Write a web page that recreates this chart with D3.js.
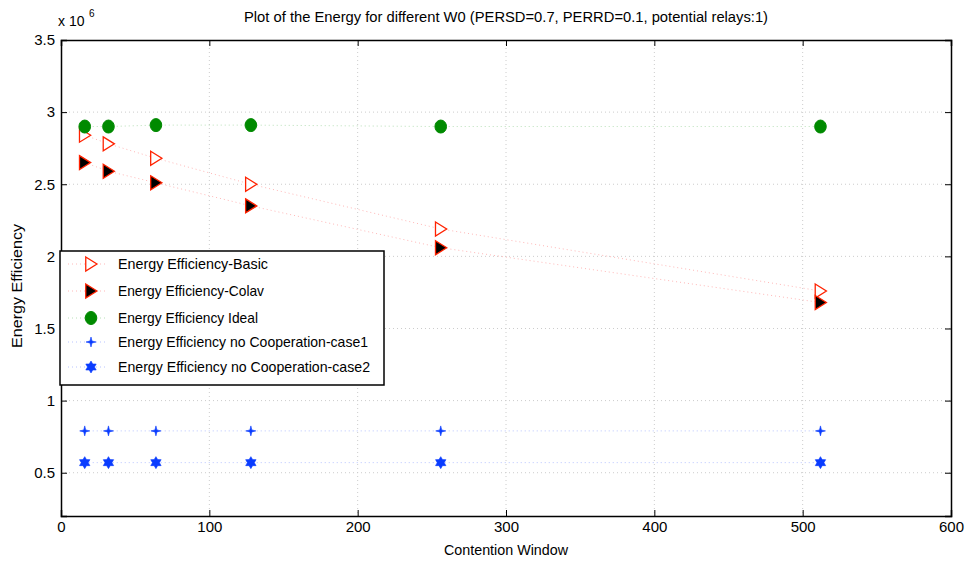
<!DOCTYPE html>
<html>
<head>
<meta charset="utf-8">
<script src="https://cdn.jsdelivr.net/npm/d3@7"></script>
<style>
  body { margin: 0; background: #fff; }
  text { font-family: "Liberation Sans", Arial, sans-serif; fill: #000; }
</style>
</head>
<body>
<div id="chart"></div>
<script>
// contention window values and energy efficiency (x 10^6)
var windows = [16, 32, 64, 128, 256, 512];
var basic = [2.84, 2.78, 2.68, 2.50, 2.19, 1.76];
var colav = [2.65, 2.59, 2.51, 2.35, 2.06, 1.68];
var ideal = [2.90, 2.90, 2.91, 2.91, 2.90, 2.90];
var case1 = [0.79, 0.79, 0.79, 0.79, 0.79, 0.79];
var case2 = [0.57, 0.57, 0.57, 0.57, 0.57, 0.57];
var xTicks = [0, 100, 200, 300, 400, 500, 600];
var yTicks = [0.5, 1, 1.5, 2, 2.5, 3, 3.5];
var seriesNames = [
  "Energy Efficiency-Basic",
  "Energy Efficiency-Colav",
  "Energy Efficiency Ideal",
  "Energy Efficiency no Cooperation-case1",
  "Energy Efficiency no Cooperation-case2"
];

var svgWidth = 967, svgHeight = 561;
var margin = { top: 40, right: 16, bottom: 45, left: 61 };
var width = svgWidth - margin.left - margin.right;
var height = svgHeight - margin.top - margin.bottom;

var svg = d3.select("#chart").append("svg")
  .attr("width", svgWidth)
  .attr("height", svgHeight);

var g = svg.append("g")
  .attr("transform", `translate(${margin.left}, ${margin.top})`);

var x = d3.scaleLinear().domain([0, 600]).range([0, width]);
var y = d3.scaleLinear().domain([0.2, 3.5]).range([height, 0]);

// grid
g.selectAll(".vgrid").data(xTicks.slice(1, -1)).enter().append("line")
  .attr("x1", d => x(d)).attr("x2", d => x(d))
  .attr("y1", 0).attr("y2", height)
  .attr("stroke", "#cccccc").attr("stroke-width", 1).attr("stroke-dasharray", "1,3");
g.selectAll(".hgrid").data(yTicks.slice(0, -1)).enter().append("line")
  .attr("x1", 0).attr("x2", width)
  .attr("y1", d => y(d)).attr("y2", d => y(d))
  .attr("stroke", "#cccccc").attr("stroke-width", 1).attr("stroke-dasharray", "1,3");

// marker shapes
function tri(size) {
  var h = size / 2;
  return `M${-h * 0.75},${-h}L${h * 0.85},0L${-h * 0.75},${h}Z`;
}
function plusStar(r) {
  var w = r * 0.28, p = [];
  for (var i = 0; i < 8; i++) {
    var a = i * Math.PI / 4 - Math.PI / 2;
    var rr = i % 2 === 0 ? r : w;
    p.push([rr * Math.cos(a), rr * Math.sin(a)]);
  }
  return "M" + p.map(q => q.join(",")).join("L") + "Z";
}
function hexagram(r) {
  var ri = r * 0.58, p = [];
  for (var i = 0; i < 12; i++) {
    var a = i * Math.PI / 6 - Math.PI / 2;
    var rr = i % 2 === 0 ? r : ri;
    p.push([rr * Math.cos(a), rr * Math.sin(a)]);
  }
  return "M" + p.map(q => q.join(",")).join("L") + "Z";
}

var series = [
  { name: seriesNames[0], values: basic, line: "#ffb8b8", draw: function (s) {
      s.append("path").attr("d", tri(14)).attr("fill", "#fff").attr("stroke", "#ff2200").attr("stroke-width", 1.3); } },
  { name: seriesNames[1], values: colav, line: "#ffb8b8", draw: function (s) {
      s.append("path").attr("d", tri(14)).attr("fill", "#000").attr("stroke", "#ff2200").attr("stroke-width", 1.3); } },
  { name: seriesNames[2], values: ideal, line: "#b8e0b8", draw: function (s) {
      s.append("ellipse").attr("rx", 5.8).attr("ry", 6.5).attr("fill", "#008a00").attr("stroke", "#008a00"); } },
  { name: seriesNames[3], values: case1, line: "#b8c4ff", draw: function (s) {
      s.append("path").attr("d", plusStar(5)).attr("fill", "#0a3cff").attr("stroke", "#0a3cff").attr("stroke-width", 0.6); } },
  { name: seriesNames[4], values: case2, line: "#b8c4ff", draw: function (s) {
      s.append("path").attr("d", hexagram(6)).attr("fill", "#0a3cff").attr("stroke", "#0a3cff").attr("stroke-width", 0.6); } }
];

var line = d3.line().x((d, i) => x(windows[i])).y(d => y(d));

series.forEach(function (s) {
  g.append("path").datum(s.values)
    .attr("d", line)
    .attr("fill", "none")
    .attr("stroke", s.line)
    .attr("stroke-width", 1)
    .attr("stroke-dasharray", "1,3");
});
series.forEach(function (s) {
  s.values.forEach(function (v, i) {
    var m = g.append("g").attr("transform", `translate(${x(windows[i])},${y(v)})`);
    s.draw(m);
  });
});

// axes box with inward ticks
var bottomAxis = d3.axisBottom(x).tickValues(xTicks).tickSize(-6).tickPadding(5);
var leftAxis = d3.axisLeft(y).tickValues(yTicks).tickSize(-6).tickPadding(6)
  .tickFormat(d3.format("~g"));

var gx = g.append("g").attr("transform", `translate(0, ${height})`).call(bottomAxis);
var gy = g.append("g").call(leftAxis);
g.append("g").call(d3.axisTop(x).tickValues(xTicks).tickSize(-6).tickFormat(""));
g.append("g").attr("transform", `translate(${width}, 0)`)
  .call(d3.axisRight(y).tickValues(yTicks).tickSize(-6).tickFormat(""));

g.selectAll(".domain").attr("stroke", "#000").attr("stroke-width", 1.5);
g.selectAll(".tick line").attr("stroke", "#000");
g.selectAll(".tick text").style("font-size", "15px").style("font-family", "Liberation Sans, Arial, sans-serif");
gx.selectAll(".tick text").attr("dy", "0.75em");

// exponent label
svg.append("text").attr("x", 58).attr("y", 26).style("font-size", "14px").text("x 10");
svg.append("text").attr("x", 89).attr("y", 17).style("font-size", "10px").text("6");

// title and axis labels
svg.append("text")
  .attr("x", margin.left + width / 2).attr("y", 22)
  .attr("text-anchor", "middle").style("font-size", "14px")
  .attr("textLength", 524).attr("lengthAdjust", "spacingAndGlyphs")
  .text("Plot of the Energy for different W0 (PERSD=0.7, PERRD=0.1, potential relays:1)");

svg.append("text")
  .attr("x", margin.left + width / 2).attr("y", 555)
  .attr("text-anchor", "middle").style("font-size", "15px")
  .attr("textLength", 124).attr("lengthAdjust", "spacingAndGlyphs")
  .text("Contention Window");

svg.append("text")
  .attr("transform", `translate(22, ${margin.top + height / 2 + 8}) rotate(-90)`)
  .attr("text-anchor", "middle").style("font-size", "15px")
  .attr("textLength", 124).attr("lengthAdjust", "spacingAndGlyphs")
  .text("Energy Efficiency");

// legend
var legend = svg.append("g").attr("transform", "translate(60, 251)");
legend.append("rect").attr("width", 324).attr("height", 134)
  .attr("fill", "#fff").attr("stroke", "#000").attr("stroke-width", 1.5);
var rowY = [13, 40, 67, 91, 116];
var textLen = [150, 146, 140, 250, 252];
series.forEach(function (s, i) {
  var row = legend.append("g").attr("transform", `translate(0, ${rowY[i]})`);
  row.append("line").attr("x1", 8).attr("x2", 48).attr("y1", 0).attr("y2", 0)
    .attr("stroke", s.line).attr("stroke-dasharray", "1,3");
  var m = row.append("g").attr("transform", "translate(31, 0)");
  s.draw(m);
  row.append("text").attr("x", 58).attr("y", 0).attr("dy", "0.35em")
    .style("font-size", "15px")
    .attr("textLength", textLen[i]).attr("lengthAdjust", "spacingAndGlyphs")
    .text(s.name);
});
</script>
</body>
</html>
